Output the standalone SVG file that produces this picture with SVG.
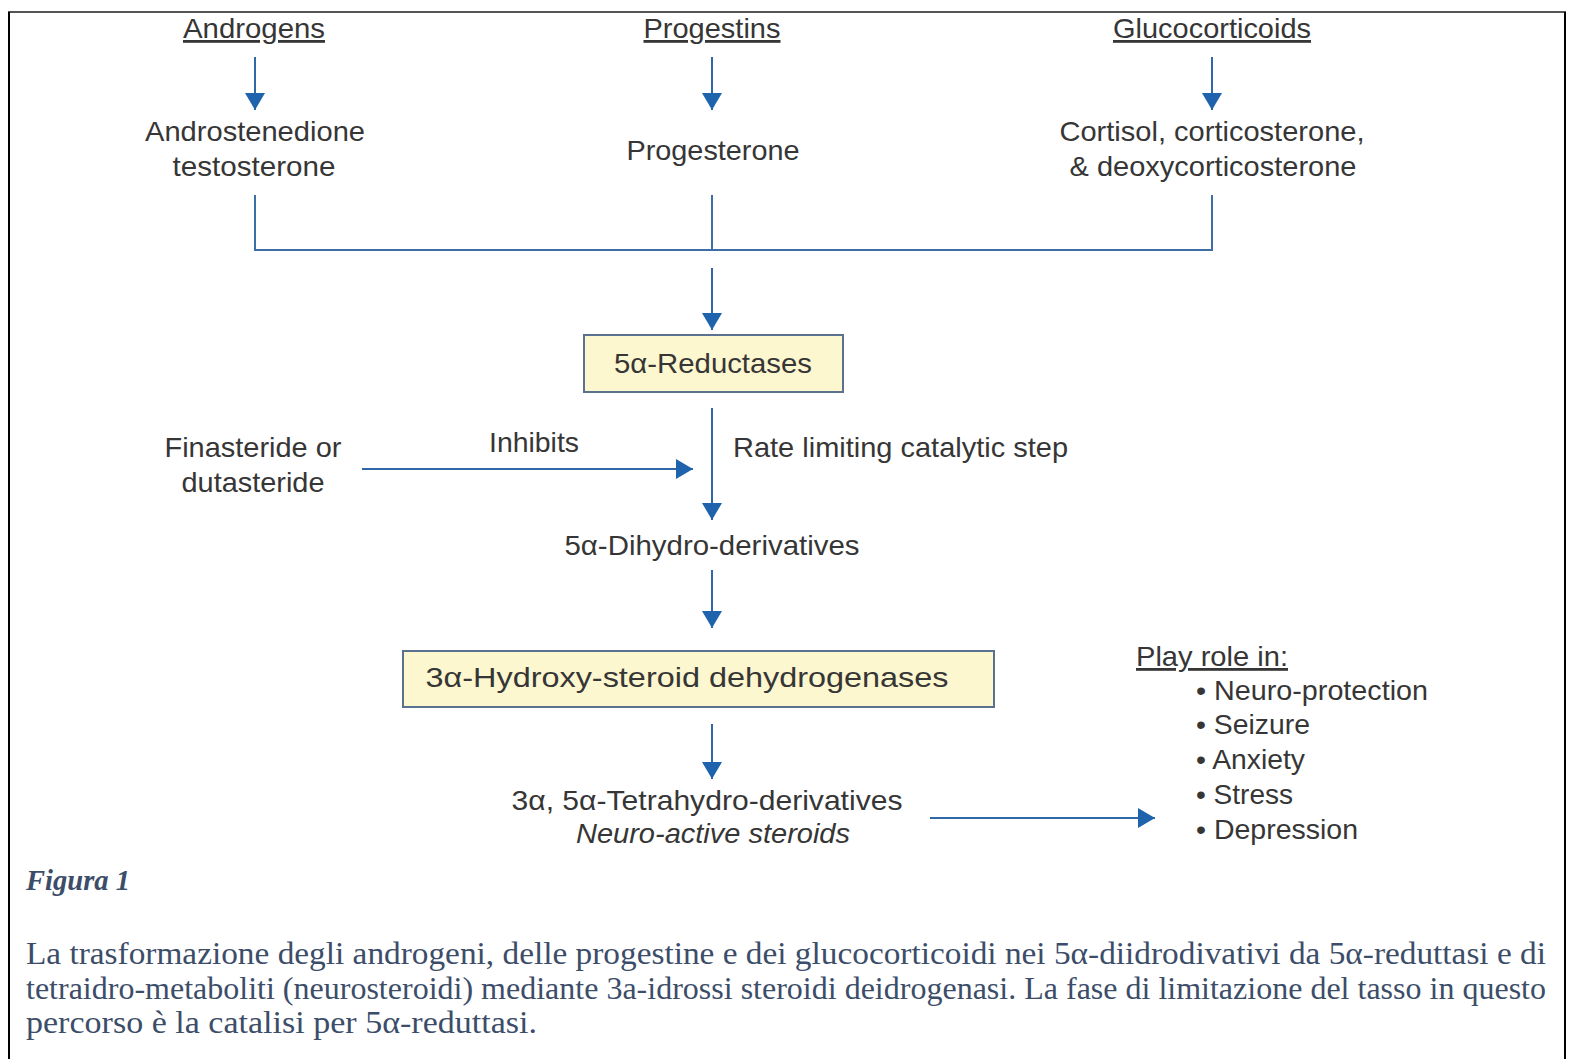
<svg xmlns="http://www.w3.org/2000/svg" width="1572" height="1059" viewBox="0 0 1572 1059">
<defs>
<marker id="ah" markerUnits="userSpaceOnUse" markerWidth="18" markerHeight="22" refX="17" refY="10" orient="auto">
<path d="M0,0 L17,10 L0,20 z" fill="#1f63ad"/>
</marker>
<style>
.t{font-family:"Liberation Sans",Arial,sans-serif;font-size:28px;fill:#363636;}
.m{text-anchor:middle;}
.u{text-decoration:underline;}
.i{font-style:italic;}
.box{fill:#fdf7cf;stroke:#5a7290;stroke-width:2;}
.ln{stroke:#3d6ea6;stroke-width:2;fill:none;}
.ar{stroke:#2f68a8;stroke-width:2;fill:none;marker-end:url(#ah);}
.cap{font-family:"Liberation Serif","Times New Roman",serif;font-size:31px;fill:#3c4d69;}
.fig{font-size:29px;font-weight:bold;font-style:italic;}
</style>
</defs>
<rect x="0" y="0" width="1572" height="1059" fill="#ffffff"/>
<g id="frame">
<line x1="8" y1="12" x2="1566" y2="12" stroke="#555" stroke-width="2"/>
<line x1="9" y1="12" x2="9" y2="1059" stroke="#000" stroke-width="2"/>
<line x1="1565" y1="12" x2="1565" y2="1059" stroke="#000" stroke-width="2"/>
</g>
<g id="connectors">
<line class="ar" x1="255" y1="57" x2="255" y2="110"/>
<line class="ar" x1="712" y1="57" x2="712" y2="110"/>
<line class="ar" x1="1212" y1="57" x2="1212" y2="110"/>
<polyline class="ln" points="255,195 255,250 1212,250 1212,195"/>
<line class="ln" x1="712" y1="195" x2="712" y2="250"/>
<line class="ar" x1="712" y1="268" x2="712" y2="330"/>
<line class="ar" x1="712" y1="408" x2="712" y2="520"/>
<line class="ar" x1="362" y1="469" x2="693" y2="469"/>
<line class="ar" x1="712" y1="570" x2="712" y2="628"/>
<line class="ar" x1="712" y1="724" x2="712" y2="779"/>
<line class="ar" x1="930" y1="818" x2="1155" y2="818"/>
</g>
<g id="androgens"><text class="t m u" x="254" y="38" textLength="142" lengthAdjust="spacingAndGlyphs">Androgens</text></g>
<g id="progestins"><text class="t m u" x="712" y="38" textLength="137" lengthAdjust="spacingAndGlyphs">Progestins</text></g>
<g id="glucocorticoids"><text class="t m u" x="1212" y="38" textLength="198" lengthAdjust="spacingAndGlyphs">Glucocorticoids</text></g>
<g id="androstenedione"><text class="t m" x="255" y="141" textLength="220" lengthAdjust="spacingAndGlyphs">Androstenedione</text><text class="t m" x="254" y="176" textLength="163" lengthAdjust="spacingAndGlyphs">testosterone</text></g>
<g id="progesterone"><text class="t m" x="713" y="160" textLength="173" lengthAdjust="spacingAndGlyphs">Progesterone</text></g>
<g id="cortisol"><text class="t m" x="1212" y="141" textLength="305" lengthAdjust="spacingAndGlyphs">Cortisol, corticosterone,</text><text class="t m" x="1213" y="176" textLength="287" lengthAdjust="spacingAndGlyphs">&amp; deoxycorticosterone</text></g>
<g id="reductases"><rect class="box" x="584" y="335" width="259" height="57"/><text class="t m" x="713" y="373" textLength="198" lengthAdjust="spacingAndGlyphs">5α-Reductases</text></g>
<g id="finasteride"><text class="t m" x="253" y="457" textLength="177" lengthAdjust="spacingAndGlyphs">Finasteride or</text><text class="t m" x="253" y="492" textLength="143" lengthAdjust="spacingAndGlyphs">dutasteride</text></g>
<g id="inhibits"><text class="t m" x="534" y="452" textLength="90" lengthAdjust="spacingAndGlyphs">Inhibits</text></g>
<g id="ratelimiting"><text class="t" x="733" y="457" textLength="335" lengthAdjust="spacingAndGlyphs">Rate limiting catalytic step</text></g>
<g id="dihydro"><text class="t m" x="712" y="555" textLength="295" lengthAdjust="spacingAndGlyphs">5α-Dihydro-derivatives</text></g>
<g id="hsd"><rect class="box" x="403" y="651" width="591" height="56"/><text class="t m" x="687" y="687" textLength="523" lengthAdjust="spacingAndGlyphs">3α-Hydroxy-steroid dehydrogenases</text></g>
<g id="tetrahydro"><text class="t m" x="707" y="810" textLength="391" lengthAdjust="spacingAndGlyphs">3α, 5α-Tetrahydro-derivatives</text><text class="t m i" x="713" y="843" textLength="274" lengthAdjust="spacingAndGlyphs">Neuro-active steroids</text></g>
<g id="roles">
<text class="t u" x="1136" y="666" textLength="152" lengthAdjust="spacingAndGlyphs">Play role in:</text>
<text class="t" x="1196" y="700" textLength="232" lengthAdjust="spacingAndGlyphs">• Neuro-protection</text>
<text class="t" x="1196" y="734" textLength="114" lengthAdjust="spacingAndGlyphs">• Seizure</text>
<text class="t" x="1196" y="769" textLength="109" lengthAdjust="spacingAndGlyphs">• Anxiety</text>
<text class="t" x="1196" y="804" textLength="97" lengthAdjust="spacingAndGlyphs">• Stress</text>
<text class="t" x="1196" y="839" textLength="162" lengthAdjust="spacingAndGlyphs">• Depression</text>
</g>
<g id="caption">
<text class="cap fig" x="26" y="890" textLength="104" lengthAdjust="spacingAndGlyphs">Figura 1</text>
<text class="cap" x="26" y="964" textLength="1520" lengthAdjust="spacingAndGlyphs">La trasformazione degli androgeni, delle progestine e dei glucocorticoidi nei 5α-diidrodivativi da 5α-reduttasi e di</text>
<text class="cap" x="26" y="999" textLength="1520" lengthAdjust="spacingAndGlyphs">tetraidro-metaboliti (neurosteroidi) mediante 3a-idrossi steroidi deidrogenasi. La fase di limitazione del tasso in questo</text>
<text class="cap" x="26" y="1033" textLength="511" lengthAdjust="spacingAndGlyphs">percorso è la catalisi per 5α-reduttasi.</text>
</g>
</svg>
